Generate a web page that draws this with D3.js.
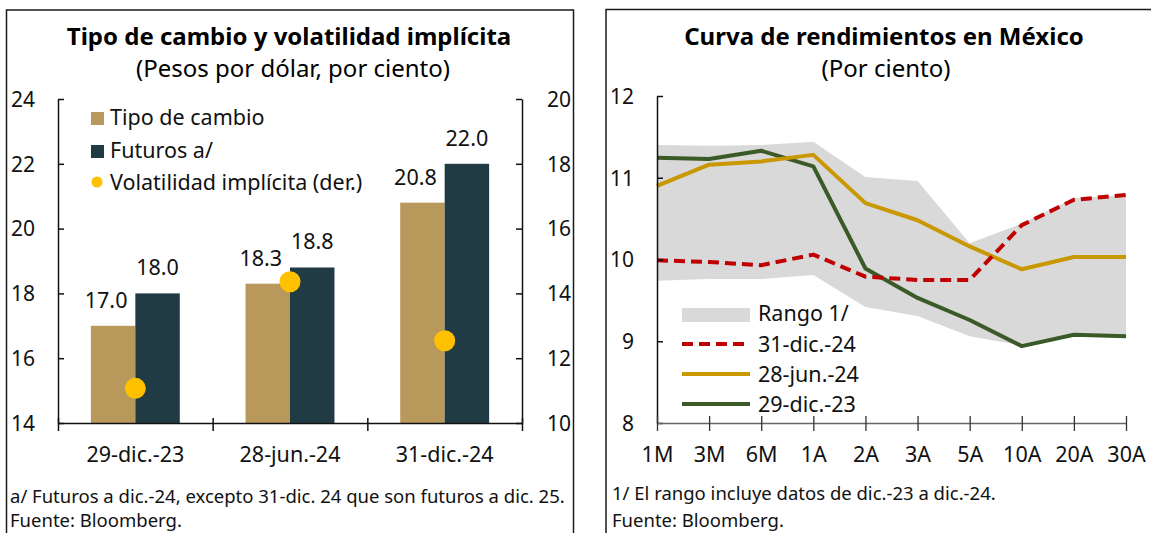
<!DOCTYPE html>
<html><head><meta charset="utf-8">
<script src="https://cdn.jsdelivr.net/npm/d3@7"></script>
<style>
body{margin:0;background:#fff;}
svg{display:block;font-family:"Noto Sans","Open Sans",sans-serif;}
</style></head>
<body><svg id="c" width="1151" height="533"></svg>
<script>
// ---- Left chart data ----
const fxCategories = ["29-dic.-23", "28-jun.-24", "31-dic.-24"];
const fxSeries = ["Tipo de cambio", "Futuros a/"];
const tipoCambio = [17.0, 18.3, 20.8];
const futuros = [18.0, 18.8, 22.0];
const volatilidad = [11.07, 14.36, 12.54];
const fxLeftTicks = [14, 16, 18, 20, 22, 24];
const fxRightTicks = [10, 12, 14, 16, 18, 20];

// ---- Right chart data ----
const tenors = ["1M", "3M", "6M", "1A", "2A", "3A", "5A", "10A", "20A", "30A"];
const rangoHigh = [11.40, 11.39, 11.40, 11.44, 11.01, 10.96, 10.20, 10.44, 10.75, 10.79];
const rangoLow  = [9.74, 9.76, 9.76, 9.81, 9.42, 9.31, 9.06, 8.95, 9.08, 9.06];
const curve_dic24 = [9.99, 9.97, 9.93, 10.06, 9.79, 9.75, 9.75, 10.42, 10.73, 10.79];
const curve_jun24 = [10.90, 11.16, 11.20, 11.28, 10.69, 10.48, 10.16, 9.88, 10.03, 10.03];
const curve_dic23 = [11.245, 11.23, 11.33, 11.14, 9.89, 9.53, 9.26, 8.94, 9.08, 9.06];
const yieldTicks = [8, 9, 10, 11, 12];

const svg = d3.select("#c");
const FS = 21.5;   // labels / legend
const TFS = 21;    // tick labels
const NFS = 18.5;  // footnotes

// panel borders
svg.append("rect").attr("x",6.5).attr("y",10).attr("width",567).attr("height",540)
  .attr("fill","none").attr("stroke","#1a1a1a").attr("stroke-width",1.5);
svg.append("rect").attr("x",606).attr("y",9.5).attr("width",560).attr("height",540)
  .attr("fill","none").attr("stroke","#1a1a1a").attr("stroke-width",1.5);

// ================= LEFT CHART =================
const L = svg.append("g");
L.append("text").attr("x",289).attr("y",45).attr("text-anchor","middle")
  .attr("font-weight","bold").attr("font-size",24).text("Tipo de cambio y volatilidad implícita");
L.append("text").attr("x",293).attr("y",77).attr("text-anchor","middle")
  .attr("font-size",24).text("(Pesos por dólar, por ciento)");

const x0 = d3.scaleBand().domain(fxCategories).range([58,522]).paddingInner(0.425).paddingOuter(0.2125);
const x1 = d3.scaleBand().domain(fxSeries).range([0, x0.bandwidth()]);
const yL = d3.scaleLinear().domain([14,24]).range([423,99]);
const yR = d3.scaleLinear().domain([10,20]).range([423,99]);
const barColors = {"Tipo de cambio":"#B8995B","Futuros a/":"#213B44"};

const barData = fxCategories.map((c,i)=>({c, vals:[{s:fxSeries[0],v:tipoCambio[i]},{s:fxSeries[1],v:futuros[i]}]}));
const grp = L.selectAll("g.grp").data(barData).enter().append("g").attr("class","grp")
  .attr("transform",d=>`translate(${x0(d.c)},0)`);
grp.selectAll("rect").data(d=>d.vals).enter().append("rect")
  .attr("x",d=>x1(d.s)).attr("width",x1.bandwidth())
  .attr("y",d=>yL(d.v)).attr("height",d=>yL(14)-yL(d.v))
  .attr("fill",d=>barColors[d.s]);
grp.selectAll("text").data(d=>d.vals).enter().append("text")
  .attr("x",(d,i)=>x1(d.s)+x1.bandwidth()/2 + (i===0?-7:0))
  .attr("y",d=>yL(d.v)-18).attr("text-anchor","middle").attr("font-size",FS)
  .attr("fill","#111").text(d=>d.v.toFixed(1));

// volatility dots
L.selectAll("circle.vol").data(volatilidad).enter().append("circle").attr("class","vol")
  .attr("cx",(d,i)=>x0(fxCategories[i])+x0.bandwidth()/2).attr("cy",d=>yR(d))
  .attr("r",10.5).attr("fill","#FFC000");

// left axis
const axL = L.append("g").attr("transform","translate(58,0)")
  .call(d3.axisRight(yL).tickValues(fxLeftTicks).tickSize(6).tickSizeOuter(0).tickFormat(d3.format("d")));
axL.selectAll("text").attr("x",-23).attr("dy","0.35em").style("text-anchor","end");
// right axis
const axR = L.append("g").attr("transform","translate(522,0)")
  .call(d3.axisLeft(yR).tickValues(fxRightTicks).tickSize(6).tickSizeOuter(0).tickFormat(d3.format("d")));
axR.selectAll("text").attr("x",25).attr("dy","0.35em").style("text-anchor","start");
[axL,axR].forEach(a=>{
  a.selectAll("text").attr("font-size",TFS).attr("font-family","Noto Sans").attr("fill","#111");
  a.selectAll("line,path").attr("stroke","#111").attr("stroke-width",1.5);
});
// x axis
const xb = d3.scaleLinear().domain([0,fxCategories.length]).range([58,522]);
const axX = L.append("g").attr("transform","translate(0,423)")
  .call(d3.axisBottom(xb).tickValues(d3.range(fxCategories.length+1)).tickSize(8).tickSizeOuter(0).tickFormat(""));
axX.selectAll("line").attr("y1",-5).attr("y2",8);
axX.selectAll("line,path").attr("stroke","#111").attr("stroke-width",1.5);
L.selectAll("text.xl").data(fxCategories).enter().append("text").attr("class","xl")
  .attr("x",d=>x0(d)+x0.bandwidth()/2).attr("y",462).attr("text-anchor","middle")
  .attr("font-size",FS).attr("fill","#111").text(d=>d);

// left legend
const lg = L.append("g");
lg.append("rect").attr("x",91).attr("y",112).attr("width",13).attr("height",13).attr("fill",barColors[fxSeries[0]]);
lg.append("rect").attr("x",91).attr("y",145).attr("width",13).attr("height",13).attr("fill",barColors[fxSeries[1]]);
lg.append("circle").attr("cx",97).attr("cy",182).attr("r",5.5).attr("fill","#FFC000");
[["Tipo de cambio",125],["Futuros a/",158],["Volatilidad implícita (der.)",190]].forEach(([t,y])=>{
  lg.append("text").attr("x",110).attr("y",y).attr("font-size",FS).attr("fill","#111").text(t);
});

// footnotes
L.append("text").attr("x",10).attr("y",503).attr("font-size",NFS).attr("fill","#111")
  .text("a/ Futuros a dic.-24, excepto 31-dic. 24 que son futuros a dic. 25.");
L.append("text").attr("x",10).attr("y",527).attr("font-size",NFS).attr("fill","#111")
  .text("Fuente: Bloomberg.");

// ================= RIGHT CHART =================
const R = svg.append("g");
R.append("text").attr("x",884).attr("y",45).attr("text-anchor","middle")
  .attr("font-weight","bold").attr("font-size",24).text("Curva de rendimientos en México");
R.append("text").attr("x",886).attr("y",77).attr("text-anchor","middle")
  .attr("font-size",24).text("(Por ciento)");

const xp = d3.scalePoint().domain(tenors).range([657,1126]);
const yy = d3.scaleLinear().domain([8,12]).range([423,96]);

const area = d3.area().x((d,i)=>xp(tenors[i])).y0((d,i)=>yy(rangoLow[i])).y1(d=>yy(d));
R.append("path").datum(rangoHigh).attr("d",area).attr("fill","#D9D9D9");

const line = d3.line().x((d,i)=>xp(tenors[i])).y(d=>yy(d));
const series = [
  {name:"29-dic.-23", v:curve_dic23, color:"#3A5A27", dash:null},
  {name:"28-jun.-24", v:curve_jun24, color:"#C99700", dash:null},
  {name:"31-dic.-24", v:curve_dic24, color:"#C00000", dash:"11,6"}
];
series.forEach(s=>{
  R.append("path").datum(s.v).attr("d",line).attr("fill","none")
    .attr("stroke",s.color).attr("stroke-width",4).attr("stroke-linejoin","round")
    .attr("stroke-dasharray",s.dash);
});

const ayy = R.append("g").attr("transform","translate(657,0)")
  .call(d3.axisRight(yy).tickValues(yieldTicks).tickSize(6).tickSizeOuter(0).tickFormat(d3.format("d")));
ayy.selectAll("text").attr("x",-23).attr("dy","0.35em").style("text-anchor","end")
  .attr("font-size",TFS).attr("font-family","Noto Sans").attr("fill","#111");
ayy.selectAll("line,path").attr("stroke","#111").attr("stroke-width",1.5);

const axp = R.append("g").attr("transform","translate(0,423)")
  .call(d3.axisBottom(xp).tickSize(8).tickSizeOuter(0));
axp.selectAll("line").attr("y1",-7).attr("y2",8).attr("stroke","#333").attr("stroke-width",1.3);
axp.select("path").attr("stroke","#666").attr("stroke-width",1.5);
axp.selectAll("text").attr("y",39).attr("dy",0).attr("font-size",FS)
  .attr("font-family","Noto Sans").attr("fill","#111");

// right legend
const rl = R.append("g");
rl.append("rect").attr("x",682).attr("y",308).attr("width",68).attr("height",14).attr("fill","#D9D9D9");
rl.append("text").attr("x",758).attr("y",321).attr("font-size",FS).attr("fill","#111").text("Rango 1/");
const legRows = [series[2], series[1], series[0]];
legRows.forEach((s,i)=>{
  const y = 344 + i*30;
  rl.append("line").attr("x1",682).attr("x2",750).attr("y1",y).attr("y2",y)
    .attr("stroke",s.color).attr("stroke-width",4).attr("stroke-dasharray",s.dash);
  rl.append("text").attr("x",758).attr("y",y+7.5).attr("font-size",FS).attr("fill","#111").text(s.name);
});

R.append("text").attr("x",612).attr("y",500).attr("font-size",NFS).attr("fill","#111")
  .text("1/ El rango incluye datos de dic.-23 a dic.-24.");
R.append("text").attr("x",612).attr("y",527).attr("font-size",NFS).attr("fill","#111")
  .text("Fuente: Bloomberg.");
</script></body></html>
